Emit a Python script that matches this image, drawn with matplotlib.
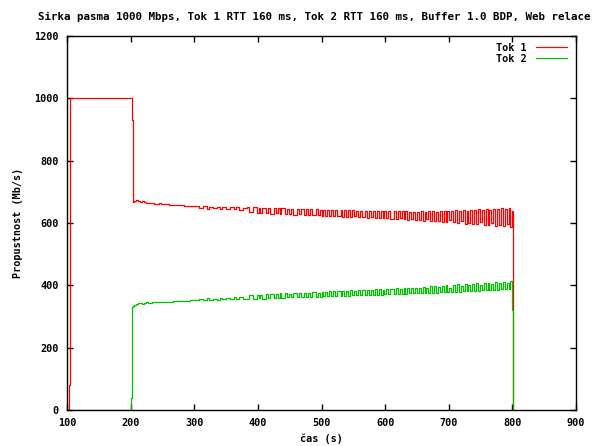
import matplotlib.pyplot as plt
import numpy as np

# data (Mb/s), sampled every 3 s from 203 s to 800 s
grid_t = np.arange(203, 801, 3)

tok1_early_t = [100, 103, 104, 105, 202]
tok1_early = [0, 80, 720, 1000, 930]
tok1 = [668, 672, 674, 670, 668, 670, 666, 664, 664, 665, 664, 662, 662, 662, 663, 661,
        660, 660, 660, 659, 659, 658, 658, 658, 657, 657, 657, 656, 656, 656, 655, 655, 655,
        654, 654, 648, 648, 653, 653, 646, 652, 652, 647, 647, 652, 652, 645, 651, 651, 646,
        646, 650, 650, 644, 650, 650, 643, 643, 649, 649,
        650, 634, 634, 650, 650, 632, 648, 632, 649, 649, 631, 648, 630, 630, 648, 632, 647,
        629, 647, 647, 628, 646, 630, 646, 627, 627, 646, 628, 645, 645, 626, 644, 627, 644,
        625, 625, 644, 626, 643, 624,
        643, 623, 643, 622, 642, 622, 642, 621, 621, 642, 620, 641, 620, 641, 619, 641, 621,
        640, 618, 640, 618, 618, 640, 617, 639, 619, 639, 616, 639, 615, 638, 617, 638, 615,
        638, 614, 614, 638, 613, 637, 615, 637, 612, 637, 611, 636, 613, 636, 611, 636,
        610, 637, 608, 636, 612, 637, 606, 638, 605, 636, 607, 639, 604, 637, 603, 640, 610,
        638, 602, 641, 600, 639, 605, 642, 598, 640, 601, 643, 597, 641, 596, 644, 603, 642,
        595, 645, 592, 643, 599, 646, 590, 644, 594, 647, 589, 645, 596, 648, 588, 640]

tok2_early_t = [100, 201, 202]
tok2_early = [0, 40, 330]
tok2 = [335, 338, 340, 342, 343, 341, 344, 345, 344, 343, 345, 346, 346, 345, 346, 347,
        347, 347, 348, 348, 348, 349, 349, 349, 350, 350, 350, 351, 351, 351, 352, 352, 352,
        352, 352, 356, 356, 353, 353, 358, 353, 353, 357, 357, 354, 354, 359, 355, 355, 359,
        359, 356, 356, 361, 356, 356, 362, 362, 357, 357,
        356, 368, 368, 356, 356, 370, 358, 370, 357, 357, 372, 358, 373, 373, 359, 371, 360,
        374, 360, 360, 375, 361, 373, 361, 376, 376, 361, 375, 362, 362, 377, 363, 376, 363,
        378, 378, 364, 377, 364, 379,
        365, 380, 365, 381, 366, 381, 366, 382, 382, 366, 383, 367, 383, 367, 384, 368, 383,
        368, 385, 368, 385, 385, 369, 386, 369, 384, 370, 387, 370, 388, 370, 386, 371, 388,
        371, 389, 389, 372, 390, 372, 388, 373, 391, 373, 392, 374, 390, 374, 392, 375,
        393, 375, 395, 376, 391, 376, 397, 377, 398, 377, 396, 378, 399, 378, 400, 379, 393,
        379, 401, 380, 403, 380, 398, 381, 404, 381, 402, 382, 405, 382, 406, 383, 400, 384,
        407, 385, 409, 385, 404, 386, 411, 386, 408, 387, 412, 387, 406, 388, 413, 320]

x_ticks = [100, 200, 300, 400, 500, 600, 700, 800, 900]
y_ticks = [0, 200, 400, 600, 800, 1000, 1200]

t1 = list(tok1_early_t) + list(grid_t) + [801]
v1 = tok1_early + tok1 + [0]
t2 = list(tok2_early_t) + list(grid_t) + [801]
v2 = tok2_early + tok2 + [0]

font = 'DejaVu Sans Mono'
fs = 7.3

fig = plt.figure(figsize=(5.95, 4.46), dpi=100)
ax = fig.add_axes([67 / 595, 1 - 410 / 446, 509 / 595, 374 / 446])

ax.plot(t1, v1, drawstyle='steps-post', color='#ff0000', lw=0.9, label='Tok 1')
ax.plot(t2, v2, drawstyle='steps-post', color='#00c000', lw=0.9, label='Tok 2')

ax.set_xlim(100, 900)
ax.set_ylim(0, 1200)
ax.set_xticks(x_ticks)
ax.set_yticks(y_ticks)
ax.tick_params(direction='in', length=4, width=1, top=True, right=True, pad=6)
for lab in ax.get_xticklabels() + ax.get_yticklabels():
    lab.set_fontfamily(font)
    lab.set_fontsize(fs)
    lab.set_fontweight('bold')
for s in ax.spines.values():
    s.set_linewidth(1)

ax.set_xlabel('čas (s)', fontfamily=font, fontsize=fs, fontweight='bold', labelpad=4)
ax.set_ylabel('Propustnost (Mb/s)', fontfamily=font, fontsize=fs, fontweight='bold', labelpad=8)

fig.text(38 / 595, 1 - 17 / 446,
         'Sirka pasma 1000 Mbps, Tok 1 RTT 160 ms, Tok 2 RTT 160 ms, Buffer 1.0 BDP, Web relace',
         fontfamily=font, fontsize=7.8, fontweight='bold', ha='left', va='center')

ax.legend(loc='upper right', bbox_to_anchor=(0.992, 0.995), frameon=False, markerfirst=False,
          handlelength=3, handletextpad=1, labelspacing=0.1, borderpad=0,
          prop={'family': font, 'size': fs, 'weight': 'bold'})

plt.savefig('out.png', dpi=100)
